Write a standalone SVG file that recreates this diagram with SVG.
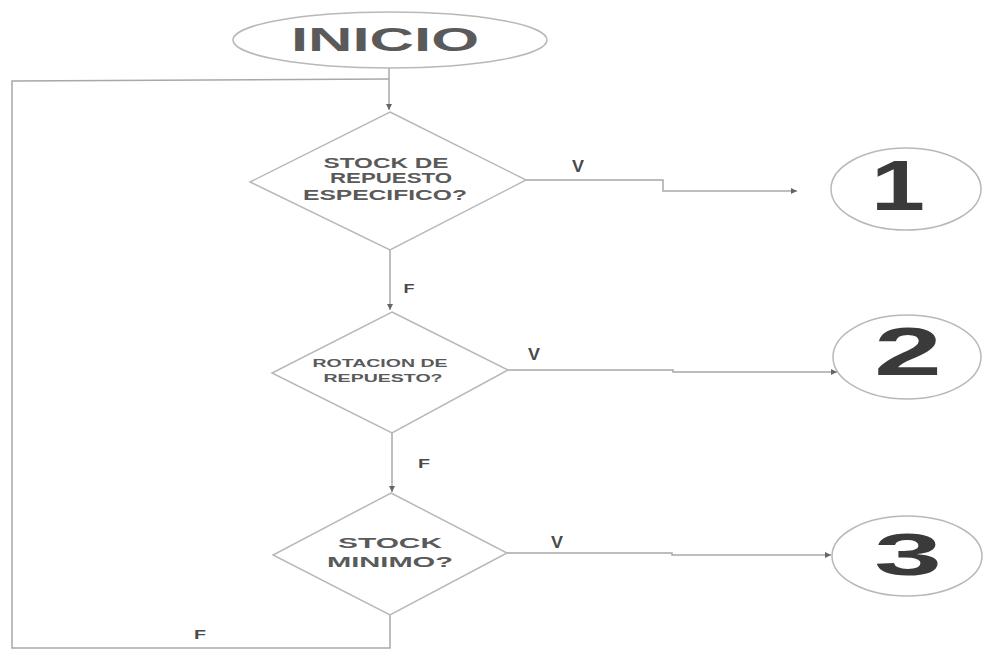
<svg xmlns="http://www.w3.org/2000/svg" width="983" height="651" viewBox="0 0 983 651">
<defs>
<style>
.shape{fill:#fff;stroke:#b8b8b8;stroke-width:1.5}
.line{fill:none;stroke:#a8a8a8;stroke-width:1.5}
.t{font-family:"Liberation Sans",Arial,sans-serif;font-weight:bold;fill:#5a5a5a;text-anchor:middle}
.big{font-family:"Liberation Sans",Arial,sans-serif;font-weight:bold;fill:#3a3a3a;text-anchor:middle}
.lbl{font-family:"Liberation Sans",Arial,sans-serif;font-weight:bold;fill:#4a4a4a;text-anchor:middle}
</style>
<marker id="arr" viewBox="0 0 10 10" refX="10" refY="5" markerWidth="6" markerHeight="6" markerUnits="userSpaceOnUse" orient="auto">
<path d="M0,0 L10,5 L0,10 z" fill="#666"/>
</marker>
</defs>
<rect width="983" height="651" fill="#fff"/>
<g id="connectors">
<polyline class="line" points="389,68 389,110" marker-end="url(#arr)"/>
<polyline class="line" points="390,250 390,310" marker-end="url(#arr)"/>
<polyline class="line" points="392,433 392,492" marker-end="url(#arr)"/>
<polyline class="line" points="390,615 390,648 12,648 12,81 389,79"/>
<polyline class="line" points="526,180 663,180 663,191 797,191" marker-end="url(#arr)"/>
<polyline class="line" points="508,370 673,370 673,372 837,372" marker-end="url(#arr)"/>
<polyline class="line" points="507,553 672,553 672,555 831,555" marker-end="url(#arr)"/>
<text class="lbl" x="578" y="172" font-size="17" textLength="12" lengthAdjust="spacingAndGlyphs">V</text>
<text class="lbl" x="534" y="360" font-size="17" textLength="12" lengthAdjust="spacingAndGlyphs">V</text>
<text class="lbl" x="557" y="548" font-size="17" textLength="12" lengthAdjust="spacingAndGlyphs">V</text>
<text class="lbl" x="409" y="293" font-size="13" textLength="11" lengthAdjust="spacingAndGlyphs">F</text>
<text class="lbl" x="424" y="468" font-size="13" textLength="12" lengthAdjust="spacingAndGlyphs">F</text>
<text class="lbl" x="200" y="639" font-size="13" textLength="12" lengthAdjust="spacingAndGlyphs">F</text>
</g>
<g id="inicio">
<ellipse class="shape" cx="390" cy="40" rx="157" ry="28"/>
<text class="t" x="385" y="51" font-size="34" textLength="188" lengthAdjust="spacingAndGlyphs">INICIO</text>
</g>
<g id="d1">
<polygon class="shape" points="390,112 526,180 390,250 250,182"/>
<text class="t" x="386" y="168" font-size="14" textLength="125" lengthAdjust="spacingAndGlyphs">STOCK DE</text>
<text class="t" x="391" y="183" font-size="14" textLength="122" lengthAdjust="spacingAndGlyphs">REPUESTO</text>
<text class="t" x="385" y="200" font-size="14" textLength="164" lengthAdjust="spacingAndGlyphs">ESPECIFICO?</text>
</g>
<g id="d2">
<polygon class="shape" points="392,312 508,370 392,433 272,373"/>
<text class="t" x="380" y="367" font-size="10" textLength="135" lengthAdjust="spacingAndGlyphs" fill="#777">ROTACION DE</text>
<text class="t" x="383" y="382" font-size="10" textLength="119" lengthAdjust="spacingAndGlyphs" fill="#777">REPUESTO?</text>
</g>
<g id="d3">
<polygon class="shape" points="391,493 507,553 390,615 273,555"/>
<text class="t" x="390" y="548" font-size="14" textLength="104" lengthAdjust="spacingAndGlyphs">STOCK</text>
<text class="t" x="390" y="567" font-size="14" textLength="126" lengthAdjust="spacingAndGlyphs">MINIMO?</text>
</g>
<g id="c1">
<ellipse class="shape" cx="906" cy="189" rx="75" ry="41"/>
<text class="big" x="898" y="210" font-size="70" textLength="54" lengthAdjust="spacingAndGlyphs">1</text>
</g>
<g id="c2">
<ellipse class="shape" cx="907" cy="357" rx="74" ry="42"/>
<text class="big" x="908" y="375" font-size="68" textLength="68" lengthAdjust="spacingAndGlyphs">2</text>
</g>
<g id="c3">
<ellipse class="shape" cx="907" cy="556" rx="75" ry="40"/>
<text class="big" x="908" y="575" font-size="60" textLength="68" lengthAdjust="spacingAndGlyphs">3</text>
</g>
</svg>
